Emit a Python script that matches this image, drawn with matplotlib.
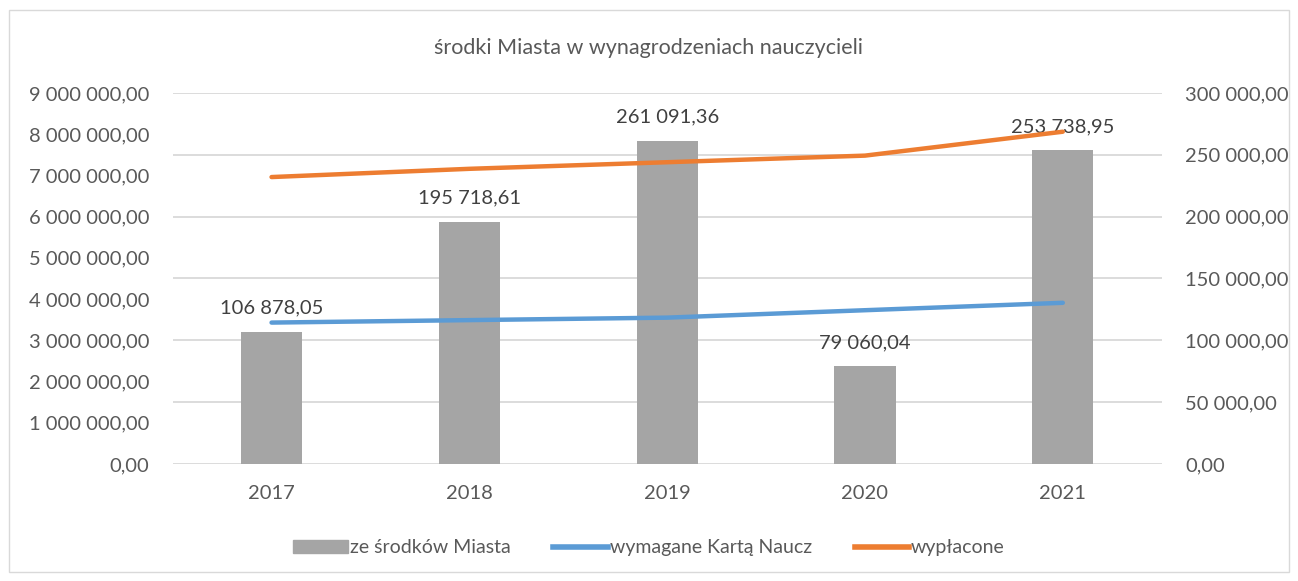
"""Środki Miasta w wynagrodzeniach nauczycieli: bars on right axis, lines on left."""

import matplotlib.pyplot as plt
from matplotlib.patches import Rectangle
from matplotlib.lines import Line2D
from matplotlib.ticker import FuncFormatter, MultipleLocator

plt.rcParams["font.family"] = ["Lato", "DejaVu Sans"]

years = ["2017", "2018", "2019", "2020", "2021"]
ze_srodkow = [106878.05, 195718.61, 261091.36, 79060.04, 253738.95]
wymagane = [3430000, 3490000, 3550000, 3730000, 3910000]
wyplacone = [6960000, 7160000, 7320000, 7480000, 8060000]

TXT = "#595959"
GRID = "#D9D9D9"


def pl_fmt(v, _pos=None):
    s = f"{v:,.2f}"
    return s.replace(",", " ").replace(".", ",")


def main():
    fig = plt.figure(figsize=(12.98, 5.81), dpi=100)
    fig.patches.append(Rectangle((0.007, 0.015), 0.986, 0.968, transform=fig.transFigure,
                                 fill=False, edgecolor="#D9D9D9", lw=1.0))

    ax = fig.add_axes([0.133, 0.2014, 0.762, 0.6386])
    ax2 = ax.twinx()
    x = list(range(len(years)))

    # bars on secondary (right) axis, drawn behind lines
    ax2.bar(x, ze_srodkow, width=0.31, color="#A5A5A5", zorder=2)
    for xi, v in zip(x, ze_srodkow):
        ax2.annotate(pl_fmt(v), (xi, v), xytext=(0, 11), textcoords="offset points",
                     ha="center", va="bottom", fontsize=14.5, color="#404040")

    ax2.set_zorder(1)
    ax.set_zorder(2)
    ax.patch.set_visible(False)

    ax.plot(x, wymagane, color="#5B9BD5", lw=3.2, solid_capstyle="round", zorder=3)
    ax.plot(x, wyplacone, color="#ED7D31", lw=3.2, solid_capstyle="round", zorder=3)

    ax.set_xlim(-0.5, 4.5)
    ax.set_ylim(0, 9000000)
    ax2.set_ylim(0, 300000)
    ax.yaxis.set_major_locator(MultipleLocator(1000000))
    ax2.yaxis.set_major_locator(MultipleLocator(50000))
    ax.yaxis.set_major_formatter(FuncFormatter(pl_fmt))
    ax2.yaxis.set_major_formatter(FuncFormatter(pl_fmt))
    ax.set_xticks(x, years)

    ax2.grid(axis="y", color=GRID, lw=1.3, zorder=0)
    for a in (ax, ax2):
        for s in a.spines.values():
            s.set_visible(False)
        a.tick_params(length=0, labelsize=14.5, colors=TXT, pad=17)
    ax.tick_params(axis="x", pad=15)

    fig.text(0.5, 0.918, "środki Miasta w wynagrodzeniach nauczycieli",
             ha="center", va="center", fontsize=15.5, color=TXT)

    handles = [Rectangle((0, 0), 1, 1, color="#A5A5A5"),
               Line2D([], [], color="#5B9BD5", lw=4),
               Line2D([], [], color="#ED7D31", lw=4)]
    labels = ["ze środków Miasta", "wymagane Kartą Naucz", "wypłacone"]
    fig.legend(handles, labels, loc="center", bbox_to_anchor=(0.5, 0.057), ncol=3,
               frameon=False, fontsize=14, labelcolor=TXT, handlelength=2.8,
               handletextpad=0.1, columnspacing=2.2)

    fig.savefig("out.png", dpi=100)


if __name__ == "__main__":
    main()
